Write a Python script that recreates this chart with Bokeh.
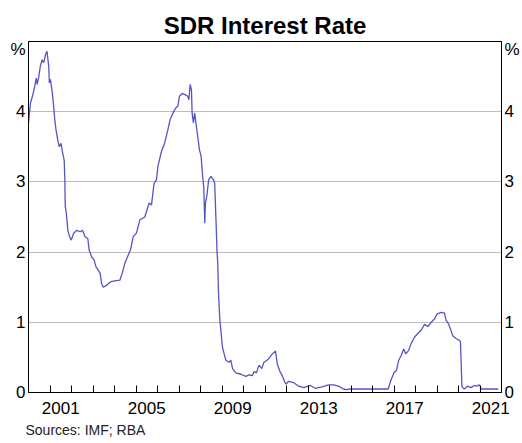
from bokeh.plotting import figure
from bokeh.models import Range1d, LinearAxis, FixedTicker, Title
from bokeh.embed import file_html
from bokeh.resources import INLINE

# ---- data ----
years = [
    2000.0, 2000.09, 2000.2, 2000.29, 2000.36, 2000.4, 2000.48, 2000.55, 2000.63, 2000.71,
    2000.79, 2000.86, 2000.94, 2000.97, 2001.02, 2001.09, 2001.17, 2001.22, 2001.28, 2001.36,
    2001.43, 2001.51, 2001.59, 2001.66, 2001.69, 2001.71, 2001.76, 2001.83, 2001.91, 2001.99,
    2002.1, 2002.25, 2002.4, 2002.51, 2002.63, 2002.76, 2002.82, 2002.94, 2003.05, 2003.14,
    2003.25, 2003.33, 2003.4, 2003.48, 2003.64, 2003.84, 2004.02, 2004.25, 2004.36, 2004.48,
    2004.64, 2004.75, 2004.87, 2005.02, 2005.18, 2005.41, 2005.61, 2005.72, 2005.84, 2005.95,
    2006.02, 2006.18, 2006.33, 2006.48, 2006.59, 2006.72, 2006.84, 2006.95, 2007.02, 2007.15,
    2007.3, 2007.41, 2007.46, 2007.52, 2007.58, 2007.61, 2007.67, 2007.73, 2007.8, 2007.87,
    2007.95, 2008.03, 2008.1, 2008.15, 2008.2, 2008.23, 2008.29, 2008.38, 2008.49, 2008.6,
    2008.66, 2008.72, 2008.77, 2008.8, 2008.84, 2008.9, 2008.96, 2009.02, 2009.1, 2009.18,
    2009.33, 2009.41, 2009.49, 2009.64, 2009.88, 2010.11, 2010.26, 2010.41, 2010.49, 2010.6,
    2010.72, 2010.85, 2010.95, 2011.1, 2011.22, 2011.34, 2011.49, 2011.57, 2011.68, 2011.8,
    2011.92, 2011.98, 2012.1, 2012.34, 2012.57, 2012.8, 2013.11, 2013.34, 2013.65, 2013.96,
    2014.19, 2014.42, 2014.65, 2014.8, 2014.96, 2016.73, 2016.85, 2017.01, 2017.11, 2017.22,
    2017.34, 2017.45, 2017.55, 2017.68, 2017.8, 2017.96, 2018.11, 2018.27, 2018.42, 2018.58,
    2018.73, 2018.89, 2019.01, 2019.2, 2019.35, 2019.42, 2019.53, 2019.62, 2019.73, 2019.89,
    2020.09, 2020.16, 2020.27, 2020.42, 2020.58, 2020.73, 2020.85, 2020.96, 2021.07, 2021.2,
    2021.85,
]
sdr_rate = [
    3.84, 4.12, 4.24, 4.36, 4.48, 4.39, 4.50, 4.65, 4.74, 4.70,
    4.81, 4.86, 4.65, 4.41, 4.46, 4.31, 4.08, 3.89, 3.74, 3.60,
    3.50, 3.55, 3.41, 3.31, 3.03, 2.65, 2.55, 2.31, 2.22, 2.17,
    2.27, 2.31, 2.29, 2.31, 2.22, 2.19, 2.03, 1.93, 1.89, 1.79,
    1.74, 1.70, 1.55, 1.50, 1.53, 1.58, 1.59, 1.60, 1.70, 1.84,
    1.96, 2.04, 2.22, 2.27, 2.46, 2.50, 2.70, 2.67, 2.98, 3.03,
    3.22, 3.43, 3.55, 3.74, 3.89, 3.98, 4.05, 4.08, 4.22, 4.26,
    4.24, 4.22, 4.17, 4.39, 4.31, 3.98, 3.84, 3.98, 3.81, 3.65,
    3.46, 3.36, 3.08, 2.93, 2.41, 2.70, 2.79, 3.03, 3.08, 3.03,
    2.98, 2.46, 2.00, 1.86, 1.40, 1.03, 0.84, 0.65, 0.55, 0.46,
    0.43, 0.46, 0.34, 0.28, 0.26, 0.23, 0.25, 0.24, 0.30, 0.28,
    0.39, 0.34, 0.43, 0.46, 0.50, 0.55, 0.59, 0.41, 0.31, 0.24,
    0.15, 0.12, 0.16, 0.14, 0.09, 0.07, 0.10, 0.06, 0.08, 0.11,
    0.11, 0.09, 0.05, 0.04, 0.05, 0.05, 0.17, 0.29, 0.31, 0.46,
    0.53, 0.62, 0.55, 0.60, 0.70, 0.79, 0.84, 0.89, 0.97, 0.94,
    1.00, 1.05, 1.12, 1.14, 1.13, 1.03, 0.98, 0.91, 0.81, 0.77,
    0.73, 0.08, 0.05, 0.09, 0.07, 0.10, 0.09, 0.11, 0.05, 0.05,
    0.05,
]
x_label_years = [2001, 2005, 2009, 2013, 2017, 2021]
year_ticks = list(range(2001, 2022))
y_ticks = [0, 1, 2, 3, 4]
title_text = "SDR Interest Rate"
source_text = "Sources: IMF; RBA"
unit_text = "%"

FONT = "Liberation Sans"
LINE_COLOR = "#5555c4"

p = figure(
    width=522, height=443,
    x_range=Range1d(2000, 2022), y_range=Range1d(0, 5),
    output_backend="svg", toolbar_location=None,
    min_border_left=28, min_border_right=18,
    min_border_top=41, min_border_bottom=51,
    background_fill_color="white", border_fill_color="white",
)
p.outline_line_color = "black"
p.outline_line_width = 1
p.outline_line_alpha = 1

p.line(years, sdr_rate, line_color=LINE_COLOR, line_width=1.3)

# title above
p.title.text = title_text
p.title.align = "center"
p.title.text_font = FONT
p.title.text_font_size = "24px"
p.title.text_font_style = "bold"
p.title.text_color = "black"
p.title.standoff = 6

# source note below
src = Title(text=source_text, align="left", text_font=FONT, text_font_size="14px",
            text_font_style="normal", text_color="#222222", offset=-3, standoff=7)
p.add_layout(src, "below")

# x axis: year ticks at boundaries (minor), labels at mid-year (major, no tick)
label_pos = [y + 0.5 for y in x_label_years]
xt = FixedTicker(ticks=label_pos, minor_ticks=year_ticks)
xa = p.xaxis[0]
xa.ticker = xt
xa.major_label_overrides = {pos: str(y) for pos, y in zip(label_pos, x_label_years)}
xa.major_tick_in = 0
xa.major_tick_out = 0
xa.minor_tick_in = 7
xa.minor_tick_out = 0
xa.minor_tick_line_color = "black"
xa.axis_line_color = "black"
xa.major_label_text_font = FONT
xa.major_label_text_font_size = "17px"
xa.major_label_text_color = "black"
xa.major_label_standoff = 9

unit_pos = 4.88
yt_vals = y_ticks + [unit_pos]
overrides = {unit_pos: unit_text}


def style_y(ax, standoff):
    ax.ticker = FixedTicker(ticks=yt_vals)
    ax.major_label_overrides = overrides
    ax.major_tick_in = 0
    ax.major_tick_out = 0
    ax.minor_tick_in = 0
    ax.minor_tick_out = 0
    ax.axis_line_color = "black"
    ax.major_label_text_font = FONT
    ax.major_label_text_font_size = "17px"
    ax.major_label_text_color = "black"
    ax.major_label_standoff = standoff


style_y(p.yaxis[0], 3)
ra = LinearAxis()
style_y(ra, 3)
p.add_layout(ra, "right")

p.xgrid.visible = False
p.ygrid.ticker = FixedTicker(ticks=[1, 2, 3, 4])
p.ygrid.grid_line_color = "#bdbdbd"
p.ygrid.grid_line_width = 1

open("out.html", "w").write(file_html(p, INLINE))
